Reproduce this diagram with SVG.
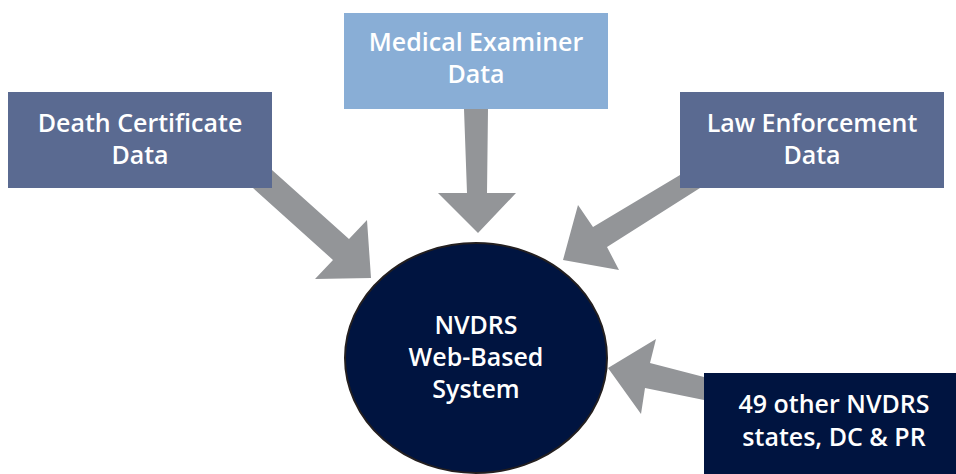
<svg xmlns="http://www.w3.org/2000/svg" width="956" height="474" viewBox="0 0 956 474">
<style>
.arrow{fill:#939598}
.t{font-family:"Open Sans","Liberation Sans",sans-serif;font-size:25px;font-weight:600;fill:#ffffff;text-anchor:middle}
</style>
<rect width="956" height="474" fill="#ffffff"/>
<g id="connectors">
<polygon class="arrow" points="253,188 272,170 349,239 367,220 371,278 315,279 333,260"/>
<polygon class="arrow" points="464,109 488,109 487,193 516,193 478,233 438,193 467,193"/>
<polygon class="arrow" points="680,175 700,188 607,247 619,270 563,260 578,205 593,227"/>
<polygon class="arrow" points="704,377 704,400 645,388 641,414 608,368 656,339 650,363"/>
</g>
<g id="death-certificate">
<rect x="8" y="92" width="264" height="96" fill="#5a6a91"/>
<text class="t" x="140" y="132">Death Certificate</text>
<text class="t" x="140" y="164">Data</text>
</g>
<g id="medical-examiner">
<rect x="344" y="13" width="264" height="96" fill="#89aed6"/>
<text class="t" x="476" y="51">Medical Examiner</text>
<text class="t" x="476" y="83">Data</text>
</g>
<g id="law-enforcement">
<rect x="680" y="92" width="264" height="96" fill="#5a6a91"/>
<text class="t" x="812" y="132">Law Enforcement</text>
<text class="t" x="812" y="164">Data</text>
</g>
<g id="nvdrs-system">
<ellipse cx="476" cy="358" rx="131" ry="115" fill="#001440" stroke="#231f20" stroke-width="2"/>
<text class="t" x="476" y="334">NVDRS</text>
<text class="t" x="476" y="366">Web-Based</text>
<text class="t" x="476" y="398">System</text>
</g>
<g id="other-states">
<rect x="704" y="373" width="252" height="101" fill="#001440"/>
<text class="t" x="834" y="413">49 other NVDRS</text>
<text class="t" x="834" y="446">states, DC &amp; PR</text>
</g>
</svg>
